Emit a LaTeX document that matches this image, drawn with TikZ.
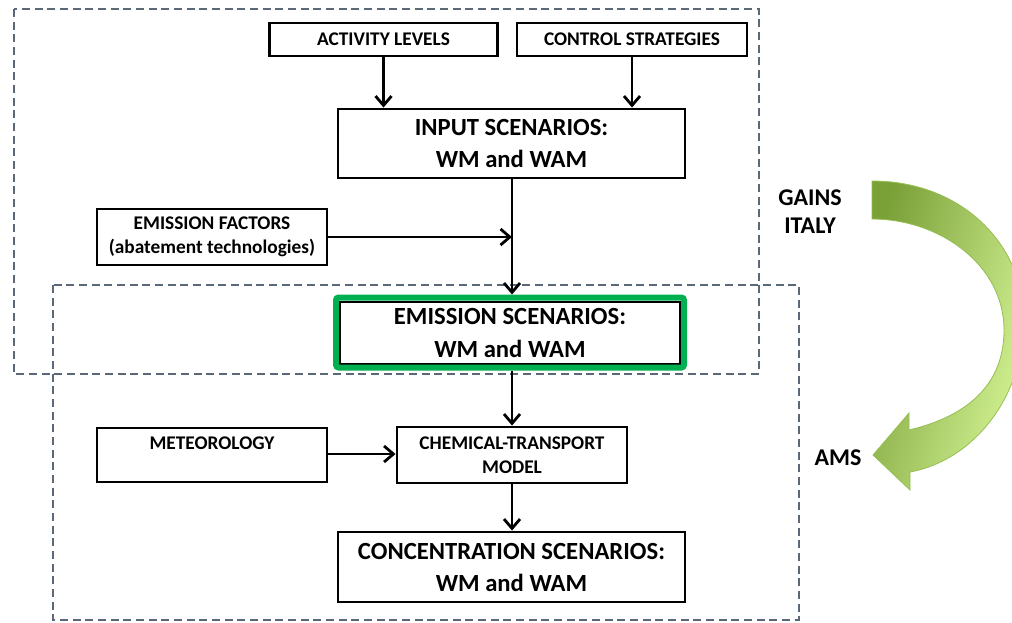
\documentclass[tikz,border=0pt]{standalone}
\usepackage{fontspec}
\setmainfont{Carlito}
\usetikzlibrary{arrows.meta}
\definecolor{dashc}{RGB}{90,104,120}
\definecolor{frameg}{RGB}{0,176,80}
\definecolor{arrdark}{RGB}{122,160,56}
\definecolor{arrlight}{RGB}{214,245,150}
\definecolor{arredge}{RGB}{150,190,80}
\begin{document}
\begin{tikzpicture}[x=0.75pt,y=-0.75pt,
  stepbox/.style={draw=black, line width=2.2pt, fill=white, inner sep=0pt, align=center, font=\bfseries\fontsize{14.5}{18}\selectfont},
  bigbox/.style={stepbox, font=\bfseries\fontsize{18.5}{24}\selectfont},
  conn/.style={line width=2.1pt, -{Straight Barb[length=7pt,width=12pt,line width=2.1pt]}},
  groupbox/.style={draw=dashc, line width=1.1pt, dash pattern=on 6pt off 3.5pt},
  sidelabel/.style={font=\bfseries\fontsize{18}{21}\selectfont, align=center, inner sep=0pt}]
\useasboundingbox (0,0) rectangle (1012,622);
\clip (0,0) rectangle (1012,622);
% group boxes
\draw[groupbox] (14,9) rectangle (759,374);
\draw[groupbox] (53,285) rectangle (799,620);
% nodes
\node[stepbox, minimum width=228*0.75pt, minimum height=33*0.75pt] (act) at (383.5,39.5) {ACTIVITY LEVELS};
\node[stepbox, minimum width=230*0.75pt, minimum height=33*0.75pt] (ctrl) at (632,39.5) {CONTROL STRATEGIES};
\node[bigbox, minimum width=347*0.75pt, minimum height=69*0.75pt] (inp) at (511.5,143.5) {INPUT SCENARIOS:\\WM and WAM};
\node[stepbox, minimum width=230*0.75pt, minimum height=56*0.75pt] (ef) at (212,237) {EMISSION FACTORS\\(abatement technologies)};
\node[bigbox, minimum width=340*0.75pt, minimum height=62*0.75pt] (emi) at (510,333) {EMISSION SCENARIOS:\\[1pt]WM and WAM};
\node[draw=frameg, line width=4.5pt, rounded corners=2pt, minimum width=348*0.75pt, minimum height=70*0.75pt, inner sep=0pt] (emig) at (510,332.5) {};
\node[stepbox, minimum width=230*0.75pt, minimum height=54*0.75pt] (met) at (212,455) {METEOROLOGY\\\mbox{}};
\node[stepbox, minimum width=230*0.75pt, minimum height=56*0.75pt] (ctm) at (512,455) {CHEMICAL-TRANSPORT\\MODEL};
\node[bigbox, minimum width=347*0.75pt, minimum height=70*0.75pt] (conc) at (511.5,567) {CONCENTRATION SCENARIOS:\\WM and WAM};
\coordinate (efj) at (512,237);
% connectors
\draw[conn] (act.south) -- (act.south |- inp.north);
\draw[conn] (ctrl.south) -- (ctrl.south |- inp.north);
\draw[conn] (512,0 |- inp.south) -- (512,0 |- emig.north);
\draw[conn] (ef.east) -- (efj);
\draw[conn] (512,0 |- emig.south) -- (512,0 |- ctm.north);
\draw[conn] (met.east |- 0,454) -- (ctm.west |- 0,454);
\draw[conn] (ctm.south) -- (ctm.south |- conc.north);
% side labels
\node[sidelabel] (gains) at (810,212) {GAINS\\ITALY};
\node[sidelabel] (ams) at (838,458) {AMS};
% green curved arrow
\shade[left color=arrdark, right color=arrlight, shading angle=75, draw=arredge, line width=0.6pt]
  (872,181) .. controls (962,181) and (1024,245) .. (1024,320)
  .. controls (1024,395) and (975,460) .. (910,472)
  -- (910,490) -- (873,455) -- (909,413) -- (909,430)
  .. controls (960,418) and (1004,390) .. (1004,330)
  .. controls (1004,265) and (940,219) .. (872,219) -- cycle;
\end{tikzpicture}
\end{document}
